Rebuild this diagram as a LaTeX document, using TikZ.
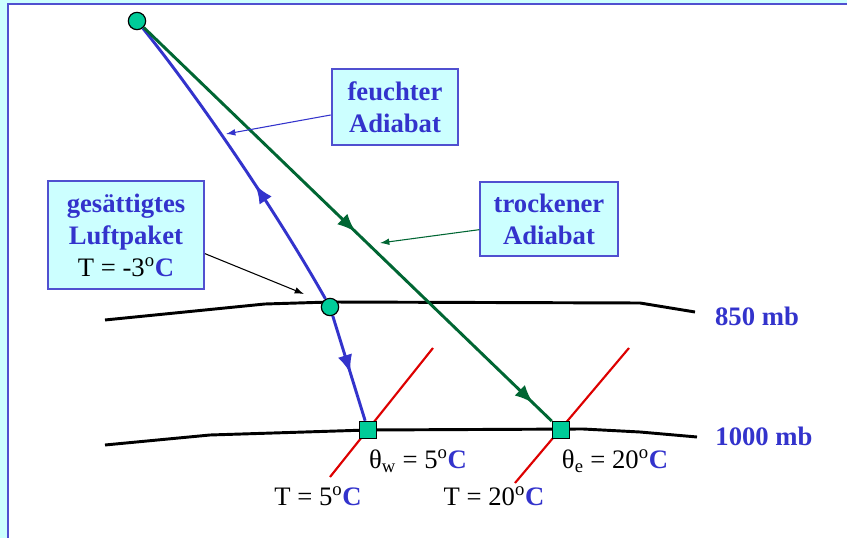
\documentclass[tikz,border=0pt]{standalone}
\usepackage{fontspec}
\setmainfont{Liberation Serif}
\usetikzlibrary{arrows.meta, decorations.markings}

\definecolor{paleCyan}{HTML}{CCFFFF}
\definecolor{frameBlue}{HTML}{5050D0}
\definecolor{txtBlue}{HTML}{3333CC}
\definecolor{dryGreen}{HTML}{006633}
\definecolor{isoRed}{HTML}{DD0000}
\definecolor{dotTeal}{HTML}{00CC99}

\newcommand{\blueC}{\textcolor{txtBlue}{\textbf{C}}}

\begin{document}
\begin{tikzpicture}[x=0.75pt, y=-0.75pt,
    every node/.style={font=\fontsize{20}{24}\selectfont},
    level/.style={black, line width=2.2pt},
    iso/.style={isoRed, line width=1.6pt},
    dot/.style={circle, draw, line width=0.9pt, fill=dotTeal, minimum size=13pt, inner sep=0pt},
    sq/.style={rectangle, draw, line width=0.9pt, fill=dotTeal, minimum size=13pt, inner sep=0pt},
    textbox/.style={draw=frameBlue, line width=1.5pt, fill=paleCyan, align=center,
      text=txtBlue, font=\fontsize{20}{24}\selectfont\bfseries, inner sep=0pt},
    mblabel/.style={text=txtBlue, font=\fontsize{20}{24}\selectfont\bfseries},
    moistline/.style={txtBlue, line width=2.2pt},
    dryline/.style={dryGreen, line width=2.2pt},
    pointer/.style={-{Latex[length=7pt,width=5pt]}, line width=0.8pt},
    arrow at/.style={postaction={decorate, decoration={markings,
      mark=at position #1 with {\arrow{Latex[length=14pt,width=11pt]}}}}},
    back arrow at/.style={postaction={decorate, decoration={markings,
      mark=at position #1 with {\arrowreversed{Latex[length=14pt,width=11pt]}}}}}]

  \clip (0,0) rectangle (847,538);
  \fill[paleCyan] (0,0) rectangle (847,538);
  \draw[frameBlue, line width=1.5pt, fill=white] (8,4) rectangle (880,570);

  % pressure levels
  \draw[level] (105,320) -- (265,304) -- (330,302) -- (640,303) -- (695,312);
  \draw[level] (105,445) -- (210,435) -- (368,430) -- (583,429) -- (640,432) -- (697,437);
  \node[mblabel] (p850) at (757,316) {850 mb};
  \node[mblabel] (p1000) at (764,436) {1000 mb};

  % isotherms
  \draw[iso] (433,348) -- (330,477);
  \draw[iso] (629,348) -- (515,483);

  % parcel points
  \node[dot] (start) at (137,21) {};
  \node[dot] (sat) at (330,307) {};
  \node[sq] (thw) at (368,430) {};
  \node[sq] (the) at (561,430) {};

  % boxes
  \node[textbox, minimum width=95pt, minimum height=57pt] (moist) at (395,107) {feuchter\\Adiabat};
  \node[textbox, minimum width=103pt, minimum height=56pt] (dry) at (549,219) {trockener\\Adiabat};
  \node[textbox, minimum width=117pt, minimum height=81pt] (parcel) at (126,235)
    {gesättigtes\\Luftpaket\\{\mdseries\color{black}T = -3\textsuperscript{o}}C};

  % temperatures
  \node (wlab) at (418,461) {θ\textsubscript{w} = 5\textsuperscript{o}\blueC};
  \node (elab) at (615,461) {θ\textsubscript{e} = 20\textsuperscript{o}\blueC};
  \node (t5) at (318,496) {T = 5\textsuperscript{o}\blueC};
  \node (t20) at (494,496) {T = 20\textsuperscript{o}\blueC};

  % adiabats
  \draw[moistline, back arrow at=0.59] (start) .. controls (203,103) and (280,218) .. (sat);
  \draw[moistline, arrow at=0.55] (sat) -- (thw);
  \draw[dryline, arrow at=0.52, arrow at=0.955] (start) -- (the);

  % pointers
  \coordinate (mtip) at (226,134);
  \coordinate (dtip) at (380,243);
  \coordinate (stip) at (304,294);
  \draw[pointer, txtBlue] ([yshift=-6pt]moist.west) -- (mtip);
  \draw[pointer, dryGreen] ([yshift=-8pt]dry.west) -- (dtip);
  \draw[pointer, black] ([yshift=-14pt]parcel.east) -- (stip);
\end{tikzpicture}
\end{document}
